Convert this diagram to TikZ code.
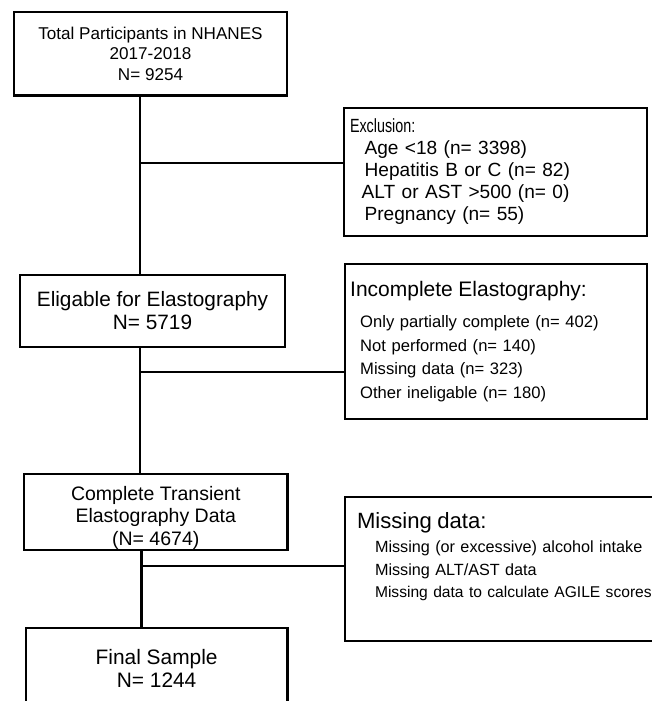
\documentclass[tikz,border=0pt]{standalone}
\usepackage{graphicx}
\usepackage{fontspec}
\setmainfont{Liberation Sans}
\begin{document}
\begin{tikzpicture}[x=1pt,y=-1pt,
  flowbox/.style={draw=black, line width=2.1pt, rectangle, inner sep=0pt, align=center},
  sidebox/.style={draw=black, line width=2.1pt, rectangle, inner ysep=0pt, align=left},
  conn/.style={draw=black, line width=2.1pt}]
\useasboundingbox[fill=white] (0,0) rectangle (651,701);

\node[flowbox, minimum width=273pt, minimum height=83.5pt,
  font=\fontsize{17.1}{20.5}\selectfont] (total) at (150.5,53.75)
  {Total Participants in NHANES\\2017-2018\\N= 9254};

\node[flowbox, minimum width=265pt, minimum height=72pt,
  font=\fontsize{20.8}{23.3}\selectfont] (elig) at (152.5,310.8)
  {Eligable for Elastography\\N= 5719};

\node[flowbox, minimum width=263.5pt, minimum height=76pt,
  font=\fontsize{19.5}{22.5}\selectfont] (cte) at (155.75,512)
  {\mbox{}\\[2.6pt]Complete Transient\\Elastography Data\\(N= 4674)};

\node[flowbox, minimum width=261.7pt, minimum height=80pt,
  font=\fontsize{20.9}{23}\selectfont] (final) at (156.6,668)
  {Final Sample\\N= 1244};

\node[sidebox, minimum width=303pt, minimum height=128pt, inner xsep=6pt,
  text width=291pt, font=\fontsize{19.1}{22}\selectfont] (excl) at (495.5,172)
  {\scalebox{0.75}[1]{Exclusion:}\\
   \hspace*{14.6pt}Age <18 (n= 3398)\\
   \hspace*{14.6pt}Hepatitis B or C (n= 82)\\
   \hspace*{11.7pt}ALT or AST >500 (n= 0)\\
   \hspace*{14.6pt}Pregnancy (n= 55)};

\node[sidebox, minimum width=302pt, minimum height=155pt, inner xsep=5.4pt,
  text width=291.2pt, font=\fontsize{16.6}{23.5}\selectfont] (incomp) at (495.8,341.5)
  {{\fontsize{21}{23.5}\selectfont Incomplete Elastography:}\\[8pt]
   \hspace*{10pt}Only partially complete (n= 402)\\
   \hspace*{10pt}Not performed (n= 140)\\
   \hspace*{10pt}Missing data (n= 323)\\
   \hspace*{10pt}Other ineligable (n= 180)};

\node[sidebox, minimum width=415pt, minimum height=144pt, inner xsep=12pt,
  text width=391pt, font=\fontsize{16.2}{22.5}\selectfont] (miss) at (552.5,569)
  {{\fontsize{22.1}{22.5}\selectfont Missing data:}\\[1.4pt]
   \hspace*{18pt}Missing (or excessive) alcohol intake\\
   \hspace*{18pt}Missing ALT/AST data\\
   \hspace*{18pt}{\fontsize{15.6}{22.5}\selectfont Missing data to calculate AGILE scores}\\[5.1pt]
   \mbox{}};

\coordinate (t1) at (139.8,0);
\coordinate (t2) at (140.4,0);
\coordinate (t3) at (141.5,0);
\coordinate (j1) at (139.8,163);
\coordinate (j2) at (140.4,372);
\coordinate (j3) at (141.5,566);

\draw[conn] (total.south -| t1) -- (elig.north -| t1);
\draw[conn] (elig.south -| t2) -- (cte.north -| t2);
\draw[conn] (cte.south -| t3) -- (final.north -| t3);
\draw[conn] (j1) -- (j1 -| excl.west);
\draw[conn] (j2) -- (j2 -| incomp.west);
\draw[conn] (j3) -- (j3 -| miss.west);
\end{tikzpicture}
\end{document}
